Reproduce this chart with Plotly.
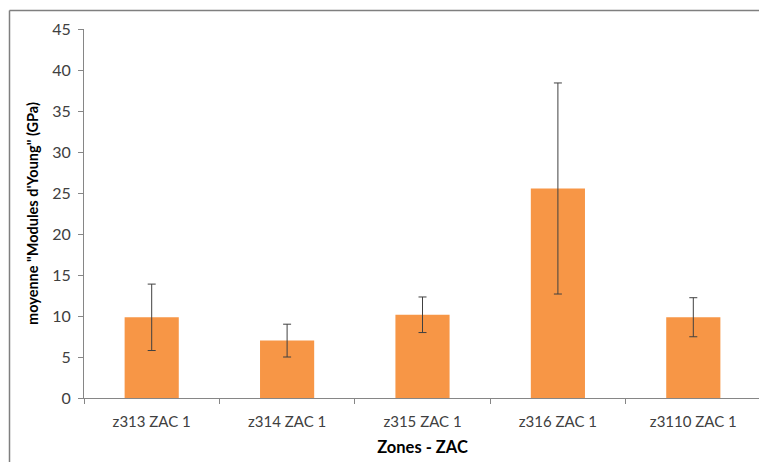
import plotly.graph_objects as go

categories = ["z313 ZAC 1", "z314 ZAC 1", "z315 ZAC 1", "z316 ZAC 1", "z3110 ZAC 1"]
means = [9.84, 7.0, 10.15, 25.55, 9.85]
errors = [4.05, 2.0, 2.17, 12.87, 2.38]
y_ticks = [0, 5, 10, 15, 20, 25, 30, 35, 40, 45]

# page body has an 8px margin, so the figure is sized to fill the rest
W, H = 759, 454
ml, mr, mt, mb = 76, 6, 21, 64
pw = W - ml - mr
ph = H - mt - mb

fig = go.Figure()
fig.add_trace(go.Bar(
    x=categories, y=means, width=0.4,
    marker=dict(color="#F79646", line=dict(width=0)),
    error_y=dict(type="data", array=errors, visible=True,
                 color="#404040", thickness=1, width=4),
))

fx0 = (1.5 - ml) / pw
fy1 = (H - mb - 2.5) / ph
frame = dict(color="#7F7F7F", width=1.5)

font = "Lato, Noto Sans, sans-serif"
fig.update_layout(
    width=W, height=H,
    margin=dict(l=ml, r=mr, t=mt, b=mb, autoexpand=False),
    paper_bgcolor="white", plot_bgcolor="white",
    showlegend=False,
    font=dict(family=font, size=14, color="#404040"),
    xaxis=dict(
        showline=True, linecolor="#868686", linewidth=1,
        ticks="outside", tickson="boundaries", ticklen=5, tickcolor="#868686",
        showgrid=False, tickfont=dict(size=15, color="#404040"),
        ticklabelstandoff=10,
        title=dict(text="<b>Zones - ZAC</b>", font=dict(size=16.5, color="black"), standoff=12),
    ),
    yaxis=dict(
        range=[0, 45], tickvals=y_ticks,
        showline=True, linecolor="#868686", linewidth=1,
        ticks="outside", ticklen=5, tickcolor="#868686",
        showgrid=False, zeroline=False, tickfont=dict(size=16, color="#404040"),
        ticklabelstandoff=4,
        title=dict(text="<b>moyenne \"Modules d'Young\" (GPa)</b>", font=dict(size=14.5, color="black"), standoff=10),
    ),
    shapes=[
        dict(type="line", xref="paper", yref="paper", x0=fx0, x1=1.02, y0=fy1, y1=fy1, line=frame),
        dict(type="line", xref="paper", yref="paper", x0=fx0, x1=fx0, y0=-0.3, y1=fy1, line=frame),
    ],
)

fig.write_html("out.html", config={"displayModeBar": False})
